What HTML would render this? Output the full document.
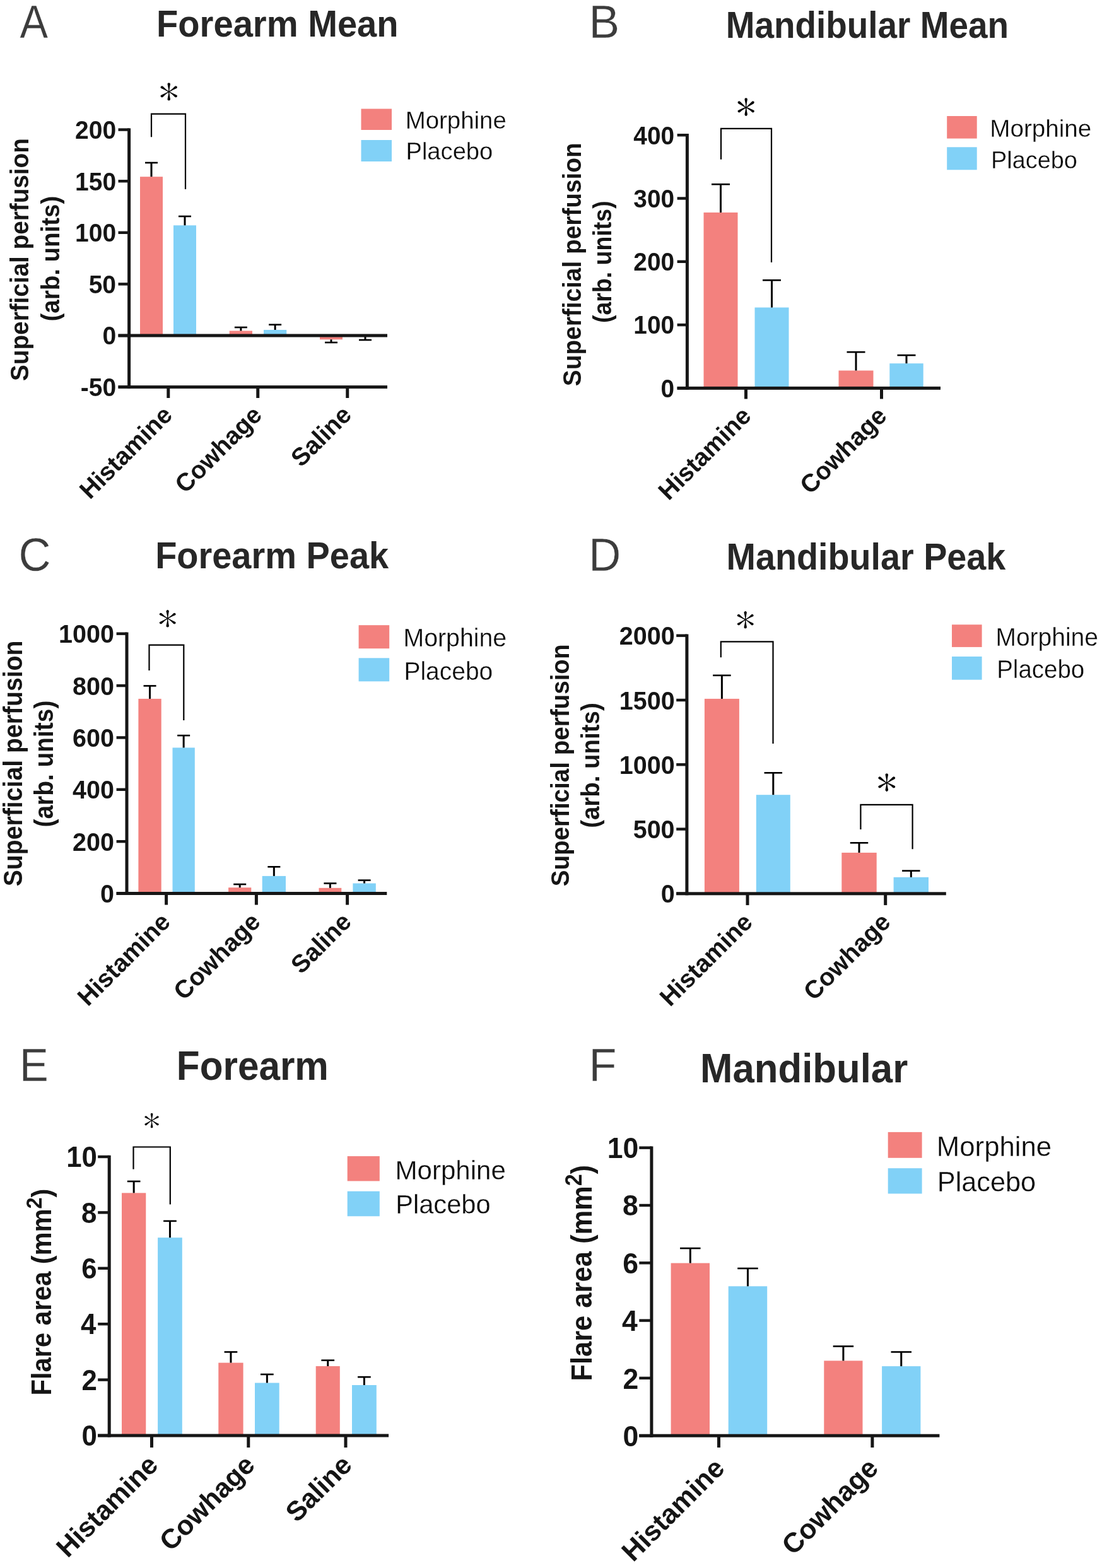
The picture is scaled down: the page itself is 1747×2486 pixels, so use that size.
<!DOCTYPE html>
<html><head><meta charset="utf-8"><title>Figure</title>
<style>html,body{margin:0;padding:0;background:#fff;overflow:hidden}svg{display:block}</style></head>
<body><svg width="1747" height="2486" viewBox="0 0 1747 2486">
<rect width="1747" height="2486" fill="#fff"/>
<text transform="translate(31.58 59.85) scale(0.9281 1.0400)" font-family='"Liberation Sans", Arial, Helvetica, sans-serif' font-weight="normal" font-size="72" fill="#3c3c3c" stroke="#fff" stroke-width="0.3">A</text>
<text transform="translate(248.08 58.3) scale(1.0019 1.0600)" font-family='"Liberation Sans", Arial, Helvetica, sans-serif' font-weight="bold" font-size="56" fill="#272727">Forearm Mean</text>
<rect x="222" y="280.2" width="36" height="251.8" fill="#F3817E"/>
<rect x="275" y="357.3" width="36" height="174.7" fill="#81D1F7"/>
<rect x="363.75" y="524.5" width="36.25" height="7.5" fill="#F3817E"/>
<rect x="418" y="523" width="36.25" height="9" fill="#81D1F7"/>
<rect x="507" y="532" width="36" height="6.25" fill="#F3817E"/>
<rect x="561" y="532" width="36" height="1.5" fill="#81D1F7"/>
<rect x="238.5" y="258" width="3" height="22.2" fill="#000"/>
<rect x="230" y="256.7" width="20" height="2.6" fill="#000"/>
<rect x="291.5" y="343" width="3" height="14.3" fill="#000"/>
<rect x="283" y="341.7" width="20" height="2.6" fill="#000"/>
<rect x="380.38" y="519" width="3" height="5.5" fill="#000"/>
<rect x="371.88" y="517.7" width="20" height="2.6" fill="#000"/>
<rect x="434.62" y="514.75" width="3" height="8.25" fill="#000"/>
<rect x="426.12" y="513.45" width="20" height="2.6" fill="#000"/>
<rect x="523.5" y="538.25" width="3" height="4.75" fill="#000"/>
<rect x="515" y="541.7" width="20" height="2.6" fill="#000"/>
<rect x="577.5" y="533.5" width="3" height="5.5" fill="#000"/>
<rect x="569" y="537.7" width="20" height="2.6" fill="#000"/>
<rect x="202.1" y="203.4" width="5" height="412.7" fill="#161616"/>
<rect x="187.5" y="203.4" width="17.1" height="4.4" fill="#161616"/>
<text transform="translate(119.06 220.08) scale(1.0000 1.0400)" font-family='"Liberation Sans", Arial, Helvetica, sans-serif' font-weight="bold" font-size="39" fill="#151515">200</text>
<rect x="187.5" y="285" width="17.1" height="4.4" fill="#161616"/>
<text transform="translate(119.06 301.68) scale(1.0000 1.0400)" font-family='"Liberation Sans", Arial, Helvetica, sans-serif' font-weight="bold" font-size="39" fill="#151515">150</text>
<rect x="187.5" y="366.6" width="17.1" height="4.4" fill="#161616"/>
<text transform="translate(119.06 383.28) scale(1.0000 1.0400)" font-family='"Liberation Sans", Arial, Helvetica, sans-serif' font-weight="bold" font-size="39" fill="#151515">100</text>
<rect x="187.5" y="448.2" width="17.1" height="4.4" fill="#161616"/>
<text transform="translate(140.69 464.88) scale(1.0000 1.0400)" font-family='"Liberation Sans", Arial, Helvetica, sans-serif' font-weight="bold" font-size="39" fill="#151515">50</text>
<rect x="187.5" y="529.8" width="17.1" height="4.4" fill="#161616"/>
<text transform="translate(162.44 546.48) scale(1.0000 1.0400)" font-family='"Liberation Sans", Arial, Helvetica, sans-serif' font-weight="bold" font-size="39" fill="#151515">0</text>
<rect x="187.5" y="611.4" width="17.1" height="4.4" fill="#161616"/>
<text transform="translate(127.81 628.08) scale(1.0000 1.0400)" font-family='"Liberation Sans", Arial, Helvetica, sans-serif' font-weight="bold" font-size="39" fill="#151515">-50</text>
<rect x="187.5" y="529.5" width="426.5" height="5" fill="#161616"/>
<rect x="187.5" y="611.1" width="426.5" height="5" fill="#161616"/>
<rect x="264.3" y="613.6" width="5" height="17.4" fill="#161616"/>
<rect x="406.25" y="613.6" width="5" height="17.4" fill="#161616"/>
<rect x="548.25" y="613.6" width="5" height="17.4" fill="#161616"/>
<text transform="translate(275.42 660.21) rotate(-45) scale(1.0350 1.0400)" font-family='"Liberation Sans", Arial, Helvetica, sans-serif' font-weight="bold" font-size="38" fill="#151515" text-anchor="end">Histamine</text>
<text transform="translate(417.4 660.18) rotate(-45) scale(1.0350 1.0400)" font-family='"Liberation Sans", Arial, Helvetica, sans-serif' font-weight="bold" font-size="38" fill="#151515" text-anchor="end">Cowhage</text>
<text transform="translate(559.42 660.15) rotate(-45) scale(1.0350 1.0400)" font-family='"Liberation Sans", Arial, Helvetica, sans-serif' font-weight="bold" font-size="38" fill="#151515" text-anchor="end">Saline</text>
<text transform="translate(44.6 411.56) rotate(-90) scale(1.0000 1.0700)" font-family='"Liberation Sans", Arial, Helvetica, sans-serif' font-weight="bold" font-size="38.7" fill="#151515" text-anchor="middle">Superficial perfusion</text>
<text transform="translate(93.8 410.08) rotate(-90) scale(1.0000 1.0700)" font-family='"Liberation Sans", Arial, Helvetica, sans-serif' font-weight="bold" font-size="38.5" fill="#151515" text-anchor="middle">(arb. units)</text>
<path d="M240 217.3V180.7H294V300" fill="none" stroke="#000" stroke-width="2.2"/>
<text transform="translate(251.16 168.18) scale(1.1400 1.0000)" font-family='IPAGothic, "Liberation Sans", sans-serif' font-weight="normal" font-size="57.92" fill="#000" stroke="#fff" stroke-width="1.2">*</text>
<text transform="translate(252.94 176.49)" font-family='"DejaVu Sans", sans-serif' font-weight="200" font-size="59.16" fill="#000">*</text>
<rect x="572.5" y="172.5" width="48.5" height="33.5" fill="#F3817E"/>
<rect x="572.5" y="222" width="48.5" height="34" fill="#81D1F7"/>
<text transform="translate(642.65 204.35) scale(1.0031 1.0200)" font-family='"Liberation Sans", Arial, Helvetica, sans-serif' font-weight="normal" font-size="38.3" fill="#0a0a0a" stroke="#fff" stroke-width="0.3">Morphine</text>
<text transform="translate(643.47 252.65) scale(0.9959 1.0200)" font-family='"Liberation Sans", Arial, Helvetica, sans-serif' font-weight="normal" font-size="38.3" fill="#0a0a0a" stroke="#fff" stroke-width="0.3">Placebo</text>
<text transform="translate(933.44 59.65) scale(1.0118 1.0400)" font-family='"Liberation Sans", Arial, Helvetica, sans-serif' font-weight="normal" font-size="72" fill="#3c3c3c" stroke="#fff" stroke-width="0.3">B</text>
<text transform="translate(1150.82 59.5) scale(0.9977 1.0600)" font-family='"Liberation Sans", Arial, Helvetica, sans-serif' font-weight="bold" font-size="55" fill="#272727">Mandibular Mean</text>
<rect x="1115.5" y="336.9" width="54" height="278.5" fill="#F3817E"/>
<rect x="1196.5" y="487.5" width="54" height="127.9" fill="#81D1F7"/>
<rect x="1329.5" y="587.5" width="55" height="27.9" fill="#F3817E"/>
<rect x="1410.3" y="576.2" width="53.4" height="39.2" fill="#81D1F7"/>
<rect x="1141" y="292.2" width="3" height="44.7" fill="#000"/>
<rect x="1128" y="290.9" width="29" height="2.6" fill="#000"/>
<rect x="1222" y="444.25" width="3" height="43.25" fill="#000"/>
<rect x="1209" y="442.95" width="29" height="2.6" fill="#000"/>
<rect x="1355.5" y="558.2" width="3" height="29.3" fill="#000"/>
<rect x="1342.5" y="556.9" width="29" height="2.6" fill="#000"/>
<rect x="1435.5" y="563.2" width="3" height="13" fill="#000"/>
<rect x="1422.5" y="561.9" width="29" height="2.6" fill="#000"/>
<rect x="1086.9" y="212" width="5" height="405.9" fill="#161616"/>
<rect x="1073.6" y="212" width="15.8" height="4.4" fill="#161616"/>
<text transform="translate(1004.36 228.56) scale(1.0000 1.0400)" font-family='"Liberation Sans", Arial, Helvetica, sans-serif' font-weight="bold" font-size="38.8" fill="#151515">400</text>
<rect x="1073.6" y="312.3" width="15.8" height="4.4" fill="#161616"/>
<text transform="translate(1004.36 328.86) scale(1.0000 1.0400)" font-family='"Liberation Sans", Arial, Helvetica, sans-serif' font-weight="bold" font-size="38.8" fill="#151515">300</text>
<rect x="1073.6" y="412.6" width="15.8" height="4.4" fill="#161616"/>
<text transform="translate(1004.36 429.16) scale(1.0000 1.0400)" font-family='"Liberation Sans", Arial, Helvetica, sans-serif' font-weight="bold" font-size="38.8" fill="#151515">200</text>
<rect x="1073.6" y="512.9" width="15.8" height="4.4" fill="#161616"/>
<text transform="translate(1004.36 529.46) scale(1.0000 1.0400)" font-family='"Liberation Sans", Arial, Helvetica, sans-serif' font-weight="bold" font-size="38.8" fill="#151515">100</text>
<rect x="1073.6" y="613.2" width="15.8" height="4.4" fill="#161616"/>
<text transform="translate(1047.54 629.76) scale(1.0000 1.0400)" font-family='"Liberation Sans", Arial, Helvetica, sans-serif' font-weight="bold" font-size="38.8" fill="#151515">0</text>
<rect x="1073.6" y="612.9" width="417.4" height="5" fill="#161616"/>
<rect x="1180" y="615.4" width="5" height="17.1" fill="#161616"/>
<rect x="1395" y="615.4" width="5" height="17.1" fill="#161616"/>
<text transform="translate(1192.92 661.81) rotate(-45) scale(1.0350 1.0400)" font-family='"Liberation Sans", Arial, Helvetica, sans-serif' font-weight="bold" font-size="38" fill="#151515" text-anchor="end">Histamine</text>
<text transform="translate(1407.95 661.78) rotate(-45) scale(1.0350 1.0400)" font-family='"Liberation Sans", Arial, Helvetica, sans-serif' font-weight="bold" font-size="38" fill="#151515" text-anchor="end">Cowhage</text>
<text transform="translate(920.8 419.25) rotate(-90) scale(1.0000 1.0700)" font-family='"Liberation Sans", Arial, Helvetica, sans-serif' font-weight="bold" font-size="38.8" fill="#151515" text-anchor="middle">Superficial perfusion</text>
<text transform="translate(969 415.2) rotate(-90) scale(1.0000 1.0700)" font-family='"Liberation Sans", Arial, Helvetica, sans-serif' font-weight="bold" font-size="37.5" fill="#151515" text-anchor="middle">(arb. units)</text>
<path d="M1143 252.7V203.9H1223V416" fill="none" stroke="#000" stroke-width="2.2"/>
<text transform="translate(1166.25 192.33) scale(1.1400 1.0000)" font-family='IPAGothic, "Liberation Sans", sans-serif' font-weight="normal" font-size="57.72" fill="#000" stroke="#fff" stroke-width="1.2">*</text>
<text transform="translate(1168.09 200.69)" font-family='"DejaVu Sans", sans-serif' font-weight="200" font-size="58.95" fill="#000">*</text>
<rect x="1501.2" y="184" width="47.5" height="35.6" fill="#F3817E"/>
<rect x="1501.2" y="233.3" width="47.5" height="36" fill="#81D1F7"/>
<text transform="translate(1569.36 217.25) scale(1.0018 1.0200)" font-family='"Liberation Sans", Arial, Helvetica, sans-serif' font-weight="normal" font-size="38.5" fill="#0a0a0a" stroke="#fff" stroke-width="0.3">Morphine</text>
<text transform="translate(1571.12 266.95) scale(0.9825 1.0200)" font-family='"Liberation Sans", Arial, Helvetica, sans-serif' font-weight="normal" font-size="38.5" fill="#0a0a0a" stroke="#fff" stroke-width="0.3">Placebo</text>
<text transform="translate(29.44 904.75) scale(0.9802 1.0400)" font-family='"Liberation Sans", Arial, Helvetica, sans-serif' font-weight="normal" font-size="72" fill="#3c3c3c" stroke="#fff" stroke-width="0.3">C</text>
<text transform="translate(246.19 901.2) scale(0.9989 1.0600)" font-family='"Liberation Sans", Arial, Helvetica, sans-serif' font-weight="bold" font-size="56" fill="#272727">Forearm Peak</text>
<rect x="219.4" y="1107.9" width="36.3" height="308.6" fill="#F3817E"/>
<rect x="273.5" y="1185.4" width="35.3" height="231.1" fill="#81D1F7"/>
<rect x="362.1" y="1407.2" width="36.2" height="9.3" fill="#F3817E"/>
<rect x="415.7" y="1388.9" width="37.3" height="27.6" fill="#81D1F7"/>
<rect x="505.5" y="1407.8" width="35.8" height="8.7" fill="#F3817E"/>
<rect x="559.4" y="1400.5" width="36.4" height="16" fill="#81D1F7"/>
<rect x="236.05" y="1087.4" width="3" height="20.5" fill="#000"/>
<rect x="227.55" y="1086.1" width="20" height="2.6" fill="#000"/>
<rect x="289.65" y="1166.1" width="3" height="19.3" fill="#000"/>
<rect x="281.15" y="1164.8" width="20" height="2.6" fill="#000"/>
<rect x="378.7" y="1402" width="3" height="5.2" fill="#000"/>
<rect x="370.2" y="1400.7" width="20" height="2.6" fill="#000"/>
<rect x="432.85" y="1374.3" width="3" height="14.6" fill="#000"/>
<rect x="424.35" y="1373" width="20" height="2.6" fill="#000"/>
<rect x="521.9" y="1400.5" width="3" height="7.3" fill="#000"/>
<rect x="513.4" y="1399.2" width="20" height="2.6" fill="#000"/>
<rect x="576.1" y="1395.6" width="3" height="4.9" fill="#000"/>
<rect x="567.6" y="1394.3" width="20" height="2.6" fill="#000"/>
<rect x="198.5" y="1002.5" width="5" height="416.5" fill="#161616"/>
<rect x="184.6" y="1002.5" width="16.4" height="4.4" fill="#161616"/>
<text transform="translate(93.11 1019.37) scale(1.0000 1.0400)" font-family='"Liberation Sans", Arial, Helvetica, sans-serif' font-weight="bold" font-size="39.5" fill="#151515">1000</text>
<rect x="184.6" y="1084.86" width="16.4" height="4.4" fill="#161616"/>
<text transform="translate(114.99 1101.73) scale(1.0000 1.0400)" font-family='"Liberation Sans", Arial, Helvetica, sans-serif' font-weight="bold" font-size="39.5" fill="#151515">800</text>
<rect x="184.6" y="1167.22" width="16.4" height="4.4" fill="#161616"/>
<text transform="translate(114.99 1184.09) scale(1.0000 1.0400)" font-family='"Liberation Sans", Arial, Helvetica, sans-serif' font-weight="bold" font-size="39.5" fill="#151515">600</text>
<rect x="184.6" y="1249.58" width="16.4" height="4.4" fill="#161616"/>
<text transform="translate(114.99 1266.45) scale(1.0000 1.0400)" font-family='"Liberation Sans", Arial, Helvetica, sans-serif' font-weight="bold" font-size="39.5" fill="#151515">400</text>
<rect x="184.6" y="1331.94" width="16.4" height="4.4" fill="#161616"/>
<text transform="translate(114.99 1348.81) scale(1.0000 1.0400)" font-family='"Liberation Sans", Arial, Helvetica, sans-serif' font-weight="bold" font-size="39.5" fill="#151515">200</text>
<rect x="184.6" y="1414.3" width="16.4" height="4.4" fill="#161616"/>
<text transform="translate(158.99 1431.17) scale(1.0000 1.0400)" font-family='"Liberation Sans", Arial, Helvetica, sans-serif' font-weight="bold" font-size="39.5" fill="#151515">0</text>
<rect x="184.6" y="1414" width="428.7" height="5" fill="#161616"/>
<rect x="261.1" y="1416.5" width="5" height="18.1" fill="#161616"/>
<rect x="403.9" y="1416.5" width="5" height="18.1" fill="#161616"/>
<rect x="548.1" y="1416.5" width="5" height="18.1" fill="#161616"/>
<text transform="translate(272.22 1463.91) rotate(-45) scale(1.0350 1.0400)" font-family='"Liberation Sans", Arial, Helvetica, sans-serif' font-weight="bold" font-size="38" fill="#151515" text-anchor="end">Histamine</text>
<text transform="translate(415.05 1463.88) rotate(-45) scale(1.0350 1.0400)" font-family='"Liberation Sans", Arial, Helvetica, sans-serif' font-weight="bold" font-size="38" fill="#151515" text-anchor="end">Cowhage</text>
<text transform="translate(559.27 1463.85) rotate(-45) scale(1.0350 1.0400)" font-family='"Liberation Sans", Arial, Helvetica, sans-serif' font-weight="bold" font-size="38" fill="#151515" text-anchor="end">Saline</text>
<text transform="translate(34.7 1210.41) rotate(-90) scale(1.0000 1.0700)" font-family='"Liberation Sans", Arial, Helvetica, sans-serif' font-weight="bold" font-size="39.2" fill="#151515" text-anchor="middle">Superficial perfusion</text>
<text transform="translate(83.8 1211.05) rotate(-90) scale(1.0000 1.0700)" font-family='"Liberation Sans", Arial, Helvetica, sans-serif' font-weight="bold" font-size="38.9" fill="#151515" text-anchor="middle">(arb. units)</text>
<path d="M236.5 1063V1022.6H291.3V1141.9" fill="none" stroke="#000" stroke-width="2.2"/>
<text transform="translate(249.42 1002.38) scale(1.1400 1.0000)" font-family='IPAGothic, "Liberation Sans", sans-serif' font-weight="normal" font-size="56.91" fill="#000" stroke="#fff" stroke-width="1.2">*</text>
<text transform="translate(251.17 1010.66)" font-family='"DejaVu Sans", sans-serif' font-weight="200" font-size="58.09" fill="#000">*</text>
<rect x="568.6" y="991.2" width="48.6" height="37" fill="#F3817E"/>
<rect x="568.6" y="1043.3" width="48.6" height="37" fill="#81D1F7"/>
<text transform="translate(639.44 1025.25) scale(1.0068 1.0200)" font-family='"Liberation Sans", Arial, Helvetica, sans-serif' font-weight="normal" font-size="39" fill="#0a0a0a" stroke="#fff" stroke-width="0.3">Morphine</text>
<text transform="translate(640.47 1078.15) scale(0.9991 1.0200)" font-family='"Liberation Sans", Arial, Helvetica, sans-serif' font-weight="normal" font-size="39" fill="#0a0a0a" stroke="#fff" stroke-width="0.3">Placebo</text>
<text transform="translate(933.23 904.65) scale(0.9806 1.0400)" font-family='"Liberation Sans", Arial, Helvetica, sans-serif' font-weight="normal" font-size="72" fill="#3c3c3c" stroke="#fff" stroke-width="0.3">D</text>
<text transform="translate(1151.49 902.5) scale(1.0006 1.0600)" font-family='"Liberation Sans", Arial, Helvetica, sans-serif' font-weight="bold" font-size="55.7" fill="#272727">Mandibular Peak</text>
<rect x="1116.9" y="1107.9" width="55" height="308.9" fill="#F3817E"/>
<rect x="1198.8" y="1260.2" width="54" height="156.6" fill="#81D1F7"/>
<rect x="1334.3" y="1351.9" width="55.4" height="64.9" fill="#F3817E"/>
<rect x="1416.6" y="1390.8" width="55.4" height="26" fill="#81D1F7"/>
<rect x="1142.9" y="1070.8" width="3" height="37.1" fill="#000"/>
<rect x="1130.15" y="1069.5" width="28.5" height="2.6" fill="#000"/>
<rect x="1224.3" y="1225.3" width="3" height="34.9" fill="#000"/>
<rect x="1211.55" y="1224" width="28.5" height="2.6" fill="#000"/>
<rect x="1360.5" y="1336.3" width="3" height="15.6" fill="#000"/>
<rect x="1347.75" y="1335" width="28.5" height="2.6" fill="#000"/>
<rect x="1442.8" y="1380.6" width="3" height="10.2" fill="#000"/>
<rect x="1430.05" y="1379.3" width="28.5" height="2.6" fill="#000"/>
<rect x="1086.4" y="1005.5" width="5" height="413.8" fill="#161616"/>
<rect x="1072.2" y="1005.5" width="16.7" height="4.4" fill="#161616"/>
<text transform="translate(981.81 1022.37) scale(1.0000 1.0400)" font-family='"Liberation Sans", Arial, Helvetica, sans-serif' font-weight="bold" font-size="39.5" fill="#151515">2000</text>
<rect x="1072.2" y="1107.77" width="16.7" height="4.4" fill="#161616"/>
<text transform="translate(981.81 1124.64) scale(1.0000 1.0400)" font-family='"Liberation Sans", Arial, Helvetica, sans-serif' font-weight="bold" font-size="39.5" fill="#151515">1500</text>
<rect x="1072.2" y="1210.05" width="16.7" height="4.4" fill="#161616"/>
<text transform="translate(981.81 1226.92) scale(1.0000 1.0400)" font-family='"Liberation Sans", Arial, Helvetica, sans-serif' font-weight="bold" font-size="39.5" fill="#151515">1000</text>
<rect x="1072.2" y="1312.32" width="16.7" height="4.4" fill="#161616"/>
<text transform="translate(1003.69 1329.19) scale(1.0000 1.0400)" font-family='"Liberation Sans", Arial, Helvetica, sans-serif' font-weight="bold" font-size="39.5" fill="#151515">500</text>
<rect x="1072.2" y="1414.6" width="16.7" height="4.4" fill="#161616"/>
<text transform="translate(1047.69 1431.47) scale(1.0000 1.0400)" font-family='"Liberation Sans", Arial, Helvetica, sans-serif' font-weight="bold" font-size="39.5" fill="#151515">0</text>
<rect x="1072.2" y="1414.3" width="427.6" height="5" fill="#161616"/>
<rect x="1182.5" y="1416.8" width="5" height="18.3" fill="#161616"/>
<rect x="1401.2" y="1416.8" width="5" height="18.3" fill="#161616"/>
<text transform="translate(1195.12 1464.41) rotate(-45) scale(1.0350 1.0400)" font-family='"Liberation Sans", Arial, Helvetica, sans-serif' font-weight="bold" font-size="38" fill="#151515" text-anchor="end">Histamine</text>
<text transform="translate(1413.85 1464.38) rotate(-45) scale(1.0350 1.0400)" font-family='"Liberation Sans", Arial, Helvetica, sans-serif' font-weight="bold" font-size="38" fill="#151515" text-anchor="end">Cowhage</text>
<text transform="translate(902 1213.42) rotate(-90) scale(1.0000 1.0700)" font-family='"Liberation Sans", Arial, Helvetica, sans-serif' font-weight="bold" font-size="38.6" fill="#151515" text-anchor="middle">Superficial perfusion</text>
<text transform="translate(950 1213.58) rotate(-90) scale(1.0000 1.0700)" font-family='"Liberation Sans", Arial, Helvetica, sans-serif' font-weight="bold" font-size="38.45" fill="#151515" text-anchor="middle">(arb. units)</text>
<path d="M1142.8 1042.3V1017.3H1225.5V1178.9" fill="none" stroke="#000" stroke-width="2.2"/>
<text transform="translate(1165.42 1004.28) scale(1.1400 1.0000)" font-family='IPAGothic, "Liberation Sans", sans-serif' font-weight="normal" font-size="56.91" fill="#000" stroke="#fff" stroke-width="1.2">*</text>
<text transform="translate(1167.17 1012.56)" font-family='"DejaVu Sans", sans-serif' font-weight="200" font-size="58.09" fill="#000">*</text>
<path d="M1364.4 1314.9V1275.8H1446.6V1346.3" fill="none" stroke="#000" stroke-width="2.2"/>
<text transform="translate(1389.04 1263.09) scale(1.1400 1.0000)" font-family='IPAGothic, "Liberation Sans", sans-serif' font-weight="normal" font-size="58.92" fill="#000" stroke="#fff" stroke-width="1.2">*</text>
<text transform="translate(1390.8 1271.69)" font-family='"DejaVu Sans", sans-serif' font-weight="200" font-size="60.23" fill="#000">*</text>
<rect x="1509" y="990.3" width="47.6" height="35.6" fill="#F3817E"/>
<rect x="1509" y="1040.9" width="47.6" height="36.8" fill="#81D1F7"/>
<text transform="translate(1578.47 1024.05) scale(0.9992 1.0200)" font-family='"Liberation Sans", Arial, Helvetica, sans-serif' font-weight="normal" font-size="39" fill="#0a0a0a" stroke="#fff" stroke-width="0.3">Morphine</text>
<text transform="translate(1580.21 1074.55) scale(0.9866 1.0200)" font-family='"Liberation Sans", Arial, Helvetica, sans-serif' font-weight="normal" font-size="39" fill="#0a0a0a" stroke="#fff" stroke-width="0.3">Placebo</text>
<text transform="translate(30.99 1713.75) scale(0.9538 1.0400)" font-family='"Liberation Sans", Arial, Helvetica, sans-serif' font-weight="normal" font-size="72" fill="#3c3c3c" stroke="#fff" stroke-width="0.3">E</text>
<text transform="translate(279.84 1711.9) scale(0.9994 1.0600)" font-family='"Liberation Sans", Arial, Helvetica, sans-serif' font-weight="bold" font-size="60.3" fill="#272727">Forearm</text>
<rect x="193" y="1891.4" width="38.3" height="384.6" fill="#F3817E"/>
<rect x="250.1" y="1962.2" width="38.7" height="313.8" fill="#81D1F7"/>
<rect x="346.3" y="2160.6" width="39.3" height="115.4" fill="#F3817E"/>
<rect x="404" y="2192.5" width="38.7" height="83.5" fill="#81D1F7"/>
<rect x="500.7" y="2166" width="38.1" height="110" fill="#F3817E"/>
<rect x="558" y="2196" width="38.8" height="80" fill="#81D1F7"/>
<rect x="210.65" y="1873" width="3" height="18.4" fill="#000"/>
<rect x="201.8" y="1871.7" width="20.7" height="2.6" fill="#000"/>
<rect x="267.95" y="1935.9" width="3" height="26.3" fill="#000"/>
<rect x="259.1" y="1934.6" width="20.7" height="2.6" fill="#000"/>
<rect x="364.45" y="2143.5" width="3" height="17.1" fill="#000"/>
<rect x="355.6" y="2142.2" width="20.7" height="2.6" fill="#000"/>
<rect x="421.85" y="2179" width="3" height="13.5" fill="#000"/>
<rect x="413" y="2177.7" width="20.7" height="2.6" fill="#000"/>
<rect x="518.25" y="2156.7" width="3" height="9.3" fill="#000"/>
<rect x="509.4" y="2155.4" width="20.7" height="2.6" fill="#000"/>
<rect x="575.9" y="2183.2" width="3" height="12.8" fill="#000"/>
<rect x="567.05" y="2181.9" width="20.7" height="2.6" fill="#000"/>
<rect x="170.7" y="1831.8" width="5" height="446.7" fill="#161616"/>
<rect x="155.2" y="1831.8" width="18" height="4.4" fill="#161616"/>
<text transform="translate(105.13 1850.18) scale(1.0000 1.0400)" font-family='"Liberation Sans", Arial, Helvetica, sans-serif' font-weight="bold" font-size="43.8" fill="#151515">10</text>
<rect x="155.2" y="1920.2" width="18" height="4.4" fill="#161616"/>
<text transform="translate(129.04 1938.58) scale(1.0000 1.0400)" font-family='"Liberation Sans", Arial, Helvetica, sans-serif' font-weight="bold" font-size="43.8" fill="#151515">8</text>
<rect x="155.2" y="2008.6" width="18" height="4.4" fill="#161616"/>
<text transform="translate(129.29 2026.98) scale(1.0000 1.0400)" font-family='"Liberation Sans", Arial, Helvetica, sans-serif' font-weight="bold" font-size="43.8" fill="#151515">6</text>
<rect x="155.2" y="2097" width="18" height="4.4" fill="#161616"/>
<text transform="translate(127.91 2115.38) scale(1.0000 1.0400)" font-family='"Liberation Sans", Arial, Helvetica, sans-serif' font-weight="bold" font-size="43.8" fill="#151515">4</text>
<rect x="155.2" y="2185.4" width="18" height="4.4" fill="#161616"/>
<text transform="translate(129.41 2203.98) scale(1.0000 1.0400)" font-family='"Liberation Sans", Arial, Helvetica, sans-serif' font-weight="bold" font-size="43.8" fill="#151515">2</text>
<rect x="155.2" y="2273.8" width="18" height="4.4" fill="#161616"/>
<text transform="translate(129.54 2292.18) scale(1.0000 1.0400)" font-family='"Liberation Sans", Arial, Helvetica, sans-serif' font-weight="bold" font-size="43.8" fill="#151515">0</text>
<rect x="155.2" y="2273.5" width="460.9" height="5" fill="#161616"/>
<rect x="238" y="2276" width="5" height="19" fill="#161616"/>
<rect x="391.3" y="2276" width="5" height="19" fill="#161616"/>
<rect x="545.5" y="2276" width="5" height="19" fill="#161616"/>
<text transform="translate(253.08 2325.33) rotate(-45) scale(1.0400 1.0400)" font-family='"Liberation Sans", Arial, Helvetica, sans-serif' font-weight="bold" font-size="41.5" fill="#151515" text-anchor="end">Histamine</text>
<text transform="translate(406.37 2325.34) rotate(-45) scale(1.0400 1.0400)" font-family='"Liberation Sans", Arial, Helvetica, sans-serif' font-weight="bold" font-size="41.5" fill="#151515" text-anchor="end">Cowhage</text>
<text transform="translate(560.6 2325.31) rotate(-45) scale(1.0400 1.0400)" font-family='"Liberation Sans", Arial, Helvetica, sans-serif' font-weight="bold" font-size="41.5" fill="#151515" text-anchor="end">Saline</text>
<text transform="translate(81 2212.41) rotate(-90) scale(1 1.0700)" font-family='"Liberation Sans", Arial, Helvetica, sans-serif' font-weight="bold" font-size="41.6" fill="#151515">Flare area (mm<tspan font-size="32.45" dy="-14.39">2</tspan><tspan dy="14.39">)</tspan></text>
<path d="M211.5 1853.8V1818.5H269.8V1909.6" fill="none" stroke="#000" stroke-width="2.2"/>
<text transform="translate(226.49 1795.35) scale(1.1400 1.0000)" font-family='IPAGothic, "Liberation Sans", sans-serif' font-weight="normal" font-size="49.5" fill="#000" stroke="#fff" stroke-width="1.2">*</text>
<text transform="translate(228.11 1802.38)" font-family='"DejaVu Sans", sans-serif' font-weight="200" font-size="50.19" fill="#000">*</text>
<rect x="550.7" y="1833.1" width="51.1" height="39.4" fill="#F3817E"/>
<rect x="550.7" y="1888.7" width="51.1" height="39.6" fill="#81D1F7"/>
<text transform="translate(626.51 1870.45) scale(1.0021 1.0200)" font-family='"Liberation Sans", Arial, Helvetica, sans-serif' font-weight="normal" font-size="42" fill="#0a0a0a" stroke="#fff" stroke-width="0.3">Morphine</text>
<text transform="translate(627.14 1924.35) scale(0.9918 1.0200)" font-family='"Liberation Sans", Arial, Helvetica, sans-serif' font-weight="normal" font-size="42" fill="#0a0a0a" stroke="#fff" stroke-width="0.3">Placebo</text>
<text transform="translate(933.42 1713.75) scale(0.9993 1.0400)" font-family='"Liberation Sans", Arial, Helvetica, sans-serif' font-weight="normal" font-size="72" fill="#3c3c3c" stroke="#fff" stroke-width="0.3">F</text>
<text transform="translate(1110.11 1716.3) scale(1.0016 1.0600)" font-family='"Liberation Sans", Arial, Helvetica, sans-serif' font-weight="bold" font-size="61.6" fill="#272727">Mandibular</text>
<rect x="1063.6" y="2002.6" width="61.4" height="273.6" fill="#F3817E"/>
<rect x="1154.7" y="2039.3" width="61.5" height="236.9" fill="#81D1F7"/>
<rect x="1306.3" y="2157.4" width="61.2" height="118.8" fill="#F3817E"/>
<rect x="1398.1" y="2166.1" width="61.3" height="110.1" fill="#81D1F7"/>
<rect x="1092.8" y="1979.1" width="3" height="23.5" fill="#000"/>
<rect x="1078.05" y="1977.8" width="32.5" height="2.6" fill="#000"/>
<rect x="1183.95" y="2011" width="3" height="28.3" fill="#000"/>
<rect x="1169.2" y="2009.7" width="32.5" height="2.6" fill="#000"/>
<rect x="1335.4" y="2134.5" width="3" height="22.9" fill="#000"/>
<rect x="1320.65" y="2133.2" width="32.5" height="2.6" fill="#000"/>
<rect x="1427.25" y="2143.5" width="3" height="22.6" fill="#000"/>
<rect x="1412.5" y="2142.2" width="32.5" height="2.6" fill="#000"/>
<rect x="1030.4" y="1817.5" width="5" height="461.2" fill="#161616"/>
<rect x="1013.3" y="1817.5" width="19.6" height="4.4" fill="#161616"/>
<text transform="translate(962.84 1836.19) scale(1.0000 1.0400)" font-family='"Liberation Sans", Arial, Helvetica, sans-serif' font-weight="bold" font-size="44.5" fill="#151515">10</text>
<rect x="1013.3" y="1908.8" width="19.6" height="4.4" fill="#161616"/>
<text transform="translate(987.09 1927.49) scale(1.0000 1.0400)" font-family='"Liberation Sans", Arial, Helvetica, sans-serif' font-weight="bold" font-size="44.5" fill="#151515">8</text>
<rect x="1013.3" y="2000.1" width="19.6" height="4.4" fill="#161616"/>
<text transform="translate(987.34 2018.79) scale(1.0000 1.0400)" font-family='"Liberation Sans", Arial, Helvetica, sans-serif' font-weight="bold" font-size="44.5" fill="#151515">6</text>
<rect x="1013.3" y="2091.4" width="19.6" height="4.4" fill="#161616"/>
<text transform="translate(985.96 2110.03) scale(1.0000 1.0400)" font-family='"Liberation Sans", Arial, Helvetica, sans-serif' font-weight="bold" font-size="44.5" fill="#151515">4</text>
<rect x="1013.3" y="2182.7" width="19.6" height="4.4" fill="#161616"/>
<text transform="translate(987.46 2201.58) scale(1.0000 1.0400)" font-family='"Liberation Sans", Arial, Helvetica, sans-serif' font-weight="bold" font-size="44.5" fill="#151515">2</text>
<rect x="1013.3" y="2274" width="19.6" height="4.4" fill="#161616"/>
<text transform="translate(987.59 2292.69) scale(1.0000 1.0400)" font-family='"Liberation Sans", Arial, Helvetica, sans-serif' font-weight="bold" font-size="44.5" fill="#151515">0</text>
<rect x="1013.3" y="2273.7" width="476.1" height="5" fill="#161616"/>
<rect x="1137" y="2276.2" width="5" height="18.8" fill="#161616"/>
<rect x="1380.4" y="2276.2" width="5" height="18.8" fill="#161616"/>
<text transform="translate(1151.29 2330.21) rotate(-45) scale(1.0400 1.0400)" font-family='"Liberation Sans", Arial, Helvetica, sans-serif' font-weight="bold" font-size="42" fill="#151515" text-anchor="end">Histamine</text>
<text transform="translate(1394.65 2330.24) rotate(-45) scale(1.0400 1.0400)" font-family='"Liberation Sans", Arial, Helvetica, sans-serif' font-weight="bold" font-size="42" fill="#151515" text-anchor="end">Cowhage</text>
<text transform="translate(938 2189.64) rotate(-90) scale(1 1.0700)" font-family='"Liberation Sans", Arial, Helvetica, sans-serif' font-weight="bold" font-size="43.5" fill="#151515">Flare area (mm<tspan font-size="33.93" dy="-15.42">2</tspan><tspan dy="15.42">)</tspan></text>
<rect x="1407.7" y="1794.9" width="53.9" height="40.9" fill="#F3817E"/>
<rect x="1407.7" y="1852.2" width="53.9" height="40.3" fill="#81D1F7"/>
<text transform="translate(1484.87 1832.75) scale(1.0048 1.0200)" font-family='"Liberation Sans", Arial, Helvetica, sans-serif' font-weight="normal" font-size="43.5" fill="#0a0a0a" stroke="#fff" stroke-width="0.3">Morphine</text>
<text transform="translate(1485.81 1888.95) scale(0.9944 1.0200)" font-family='"Liberation Sans", Arial, Helvetica, sans-serif' font-weight="normal" font-size="43.5" fill="#0a0a0a" stroke="#fff" stroke-width="0.3">Placebo</text>
</svg></body></html>
